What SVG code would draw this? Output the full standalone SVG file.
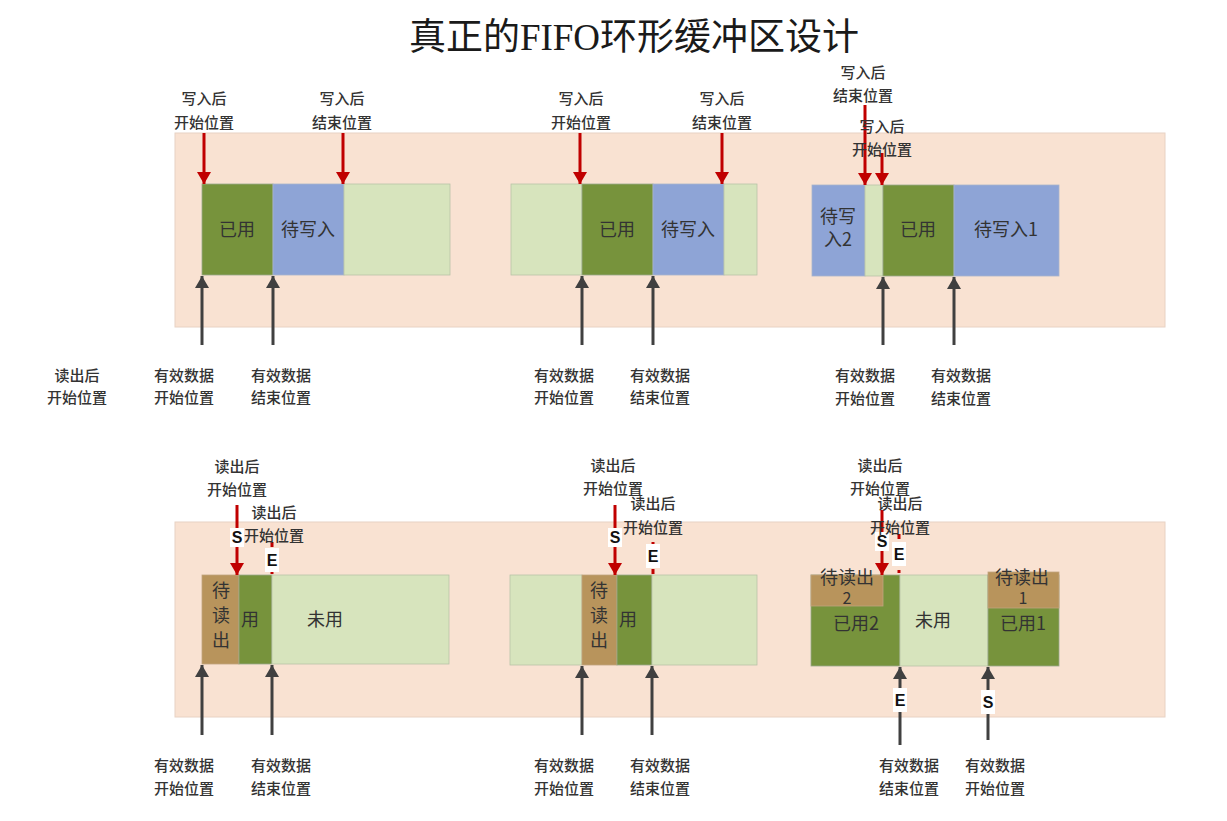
<svg xmlns="http://www.w3.org/2000/svg" width="1227" height="821" viewBox="0 0 1227 821">
<defs>
<style>
.lbl{font-family:"Noto Sans CJK SC","Noto Sans",sans-serif;font-size:15px;fill:#333;text-anchor:middle;font-weight:500}
.blk{font-family:"Noto Sans CJK SC","Noto Sans",sans-serif;font-size:18px;fill:#333;text-anchor:middle}
.ttl{font-family:"Liberation Serif","Noto Sans CJK SC",serif;font-size:37px;fill:#1a1a1a;text-anchor:middle}
.se{font-family:"Liberation Sans","DejaVu Sans",sans-serif;font-size:16px;fill:#111;text-anchor:middle;font-weight:bold}
.band{fill:#F9E2D2;stroke:#E8D2C3;stroke-width:1}
.g{fill:#77933C;stroke:#9aa88a;stroke-width:0.8}
.b{fill:#8EA4D6;stroke:#a8b4cc;stroke-width:0.8}
.lg{fill:#D7E4BD;stroke:#b8c4a8;stroke-width:0.8}
.br{fill:#B8945C;stroke:#c0a47e;stroke-width:0.8}
.red{stroke:#C00000;stroke-width:3;fill:none;marker-end:url(#ar)}
.redd{stroke:#C00000;stroke-width:3;fill:none;stroke-dasharray:5 4}
.gray{stroke:#404040;stroke-width:3;fill:none;marker-end:url(#ag)}
.wb{fill:#fff}
</style>
<marker id="ar" markerUnits="userSpaceOnUse" markerWidth="14" markerHeight="14" refX="12" refY="7" orient="auto">
<path d="M0,0 L12,7 L0,14 Z" fill="#C00000"/>
</marker>
<marker id="ag" markerUnits="userSpaceOnUse" markerWidth="14" markerHeight="14" refX="12" refY="7" orient="auto">
<path d="M0,0 L12,7 L0,14 Z" fill="#404040"/>
</marker>
</defs>
<rect width="1227" height="821" fill="#fff"/>
<text class="ttl" x="634" y="50">真正的FIFO环形缓冲区设计</text>

<g id="band-top"><rect class="band" x="175" y="133" width="990" height="194"/></g>
<g id="band-bottom"><rect class="band" x="175" y="522" width="990" height="195"/></g>

<!-- Top-left buffer -->
<g id="buf-t1">
<rect class="g" x="202" y="184" width="71" height="91"/>
<rect class="b" x="273" y="184" width="71" height="91"/>
<rect class="lg" x="344" y="184" width="106" height="91"/>
<text class="blk" x="237" y="236">已用</text>
<text class="blk" x="308" y="236">待写入</text>
</g>
<!-- Top-middle buffer -->
<g id="buf-t2">
<rect class="lg" x="511" y="184" width="71" height="91"/>
<rect class="g" x="582" y="184" width="71" height="91"/>
<rect class="b" x="653" y="184" width="71" height="91"/>
<rect class="lg" x="724" y="184" width="33" height="91"/>
<text class="blk" x="617" y="236">已用</text>
<text class="blk" x="688" y="236">待写入</text>
</g>
<!-- Top-right buffer -->
<g id="buf-t3">
<rect class="b" x="812" y="185" width="53" height="91"/>
<rect class="lg" x="865" y="185" width="18" height="91"/>
<rect class="g" x="883" y="185" width="71" height="91"/>
<rect class="b" x="954" y="185" width="105" height="91"/>
<text class="blk" x="838" y="223">待写</text>
<text class="blk" x="838" y="246">入2</text>
<text class="blk" x="918" y="236">已用</text>
<text class="blk" x="1006" y="236">待写入1</text>
</g>

<!-- Bottom-left buffer -->
<g id="buf-b1">
<rect class="br" x="202" y="575" width="37" height="89"/>
<rect class="g" x="239" y="575" width="33" height="89"/>
<rect class="lg" x="272" y="575" width="177" height="89"/>
<text class="blk" x="221" y="597">待</text>
<text class="blk" x="221" y="622">读</text>
<text class="blk" x="221" y="647">出</text>
<text class="blk" x="250" y="626">用</text>
<text class="blk" x="325" y="626">未用</text>
</g>
<!-- Bottom-middle buffer -->
<g id="buf-b2">
<rect class="lg" x="510" y="575" width="72" height="90"/>
<rect class="br" x="582" y="575" width="35" height="90"/>
<rect class="g" x="617" y="575" width="35" height="90"/>
<rect class="lg" x="652" y="575" width="105" height="90"/>
<text class="blk" x="599" y="597">待</text>
<text class="blk" x="599" y="622">读</text>
<text class="blk" x="599" y="647">出</text>
<text class="blk" x="628" y="626">用</text>
</g>
<!-- Bottom-right buffer -->
<g id="buf-b3">
<rect class="g" x="811" y="575" width="89" height="91"/>
<rect class="br" x="811" y="575" width="72" height="31"/>
<rect class="lg" x="900" y="575" width="88" height="91"/>
<rect class="g" x="988" y="575" width="71" height="91"/>
<rect class="br" x="988" y="572" width="71" height="36"/>
<text class="blk" x="847" y="584">待读出</text>
<text class="blk" x="847" y="604" style="font-size:16px">2</text>
<text class="blk" x="856" y="630">已用2</text>
<text class="blk" x="933" y="627">未用</text>
<text class="blk" x="1022" y="584">待读出</text>
<text class="blk" x="1023" y="604" style="font-size:16px">1</text>
<text class="blk" x="1023" y="630">已用1</text>
</g>

<!-- Connectors -->
<g id="connectors">
<line class="red" x1="204" y1="133" x2="204" y2="184"/>
<line class="red" x1="343" y1="133" x2="343" y2="184"/>
<line class="red" x1="580" y1="133" x2="580" y2="184"/>
<line class="red" x1="722" y1="133" x2="722" y2="184"/>
<line class="red" x1="865" y1="105" x2="865" y2="185"/>
<line class="red" x1="882" y1="153" x2="882" y2="185"/>
<line class="gray" x1="202" y1="345" x2="202" y2="276"/>
<line class="gray" x1="273" y1="345" x2="273" y2="276"/>
<line class="gray" x1="582" y1="345" x2="582" y2="276"/>
<line class="gray" x1="653" y1="345" x2="653" y2="276"/>
<line class="gray" x1="883" y1="345" x2="883" y2="277"/>
<line class="gray" x1="954" y1="345" x2="954" y2="277"/>
<line class="red" x1="237" y1="505" x2="237" y2="575"/>
<line class="red" x1="615" y1="505" x2="615" y2="575"/>
<line class="red" x1="882" y1="510" x2="882" y2="575"/>
<line class="redd" x1="272" y1="542" x2="272" y2="577"/>
<line class="redd" x1="653" y1="542" x2="653" y2="577"/>
<line class="redd" x1="899" y1="534" x2="899" y2="573"/>
<line class="gray" x1="202" y1="735" x2="202" y2="665"/>
<line class="gray" x1="272" y1="735" x2="272" y2="665"/>
<line class="gray" x1="582" y1="735" x2="582" y2="666"/>
<line class="gray" x1="652" y1="735" x2="652" y2="666"/>
<line class="gray" x1="900" y1="745" x2="900" y2="667"/>
<line class="gray" x1="988" y1="740" x2="988" y2="667"/>
<rect class="wb" x="230" y="528" width="14" height="19"/><text class="se" x="237" y="543">S</text>
<rect class="wb" x="265" y="548" width="14" height="24"/><text class="se" x="272" y="566">E</text>
<rect class="wb" x="608" y="528" width="14" height="19"/><text class="se" x="615" y="543">S</text>
<rect class="wb" x="646" y="544" width="14" height="24"/><text class="se" x="653" y="562">E</text>
<rect class="wb" x="875" y="532" width="14" height="19"/><text class="se" x="882" y="547">S</text>
<rect class="wb" x="892" y="542" width="14" height="24"/><text class="se" x="899" y="560">E</text>
<rect class="wb" x="893" y="688" width="14" height="24"/><text class="se" x="900" y="706">E</text>
<rect class="wb" x="981" y="690" width="14" height="24"/><text class="se" x="988" y="708">S</text>
</g>

<g id="labels">
<text class="lbl" x="204" y="104">写入后</text><text class="lbl" x="204" y="128">开始位置</text>
<text class="lbl" x="342" y="104">写入后</text><text class="lbl" x="342" y="128">结束位置</text>
<text class="lbl" x="581" y="104">写入后</text><text class="lbl" x="581" y="128">开始位置</text>
<text class="lbl" x="722" y="104">写入后</text><text class="lbl" x="722" y="128">结束位置</text>
<text class="lbl" x="863" y="78">写入后</text><text class="lbl" x="863" y="101">结束位置</text>
<text class="lbl" x="882" y="132">写入后</text><text class="lbl" x="882" y="155">开始位置</text>
<text class="lbl" x="77" y="381">读出后</text><text class="lbl" x="77" y="403">开始位置</text>
<text class="lbl" x="184" y="381">有效数据</text><text class="lbl" x="184" y="403">开始位置</text>
<text class="lbl" x="281" y="381">有效数据</text><text class="lbl" x="281" y="403">结束位置</text>
<text class="lbl" x="564" y="381">有效数据</text><text class="lbl" x="564" y="403">开始位置</text>
<text class="lbl" x="660" y="381">有效数据</text><text class="lbl" x="660" y="403">结束位置</text>
<text class="lbl" x="865" y="381">有效数据</text><text class="lbl" x="865" y="404">开始位置</text>
<text class="lbl" x="961" y="381">有效数据</text><text class="lbl" x="961" y="404">结束位置</text>
<text class="lbl" x="237" y="472">读出后</text><text class="lbl" x="237" y="495">开始位置</text>
<text class="lbl" x="274" y="518">读出后</text><text class="lbl" x="274" y="541">开始位置</text>
<text class="lbl" x="613" y="471">读出后</text><text class="lbl" x="613" y="494">开始位置</text>
<text class="lbl" x="653" y="509">读出后</text><text class="lbl" x="653" y="533">开始位置</text>
<text class="lbl" x="880" y="471">读出后</text><text class="lbl" x="880" y="494">开始位置</text>
<text class="lbl" x="900" y="509">读出后</text><text class="lbl" x="900" y="533">开始位置</text>
<text class="lbl" x="184" y="771">有效数据</text><text class="lbl" x="184" y="794">开始位置</text>
<text class="lbl" x="281" y="771">有效数据</text><text class="lbl" x="281" y="794">结束位置</text>
<text class="lbl" x="564" y="771">有效数据</text><text class="lbl" x="564" y="794">开始位置</text>
<text class="lbl" x="660" y="771">有效数据</text><text class="lbl" x="660" y="794">结束位置</text>
<text class="lbl" x="909" y="771">有效数据</text><text class="lbl" x="909" y="794">结束位置</text>
<text class="lbl" x="995" y="771">有效数据</text><text class="lbl" x="995" y="794">开始位置</text>
</g>
</svg>
